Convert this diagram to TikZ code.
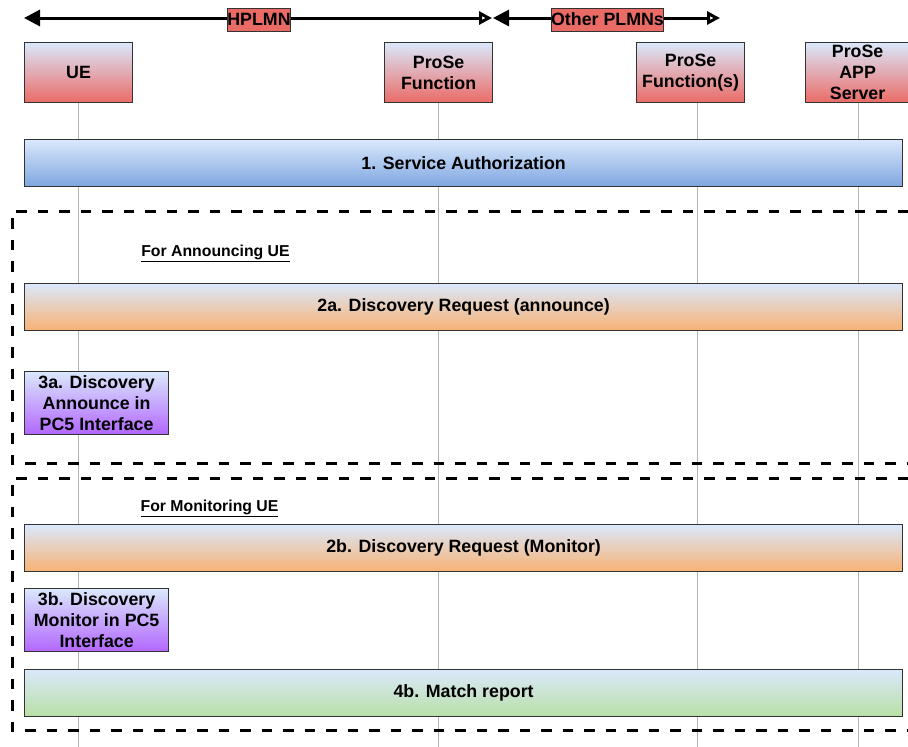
\documentclass[tikz,border=0pt]{standalone}
\usepackage{fontspec}
\setmainfont{Liberation Sans}
\usetikzlibrary{arrows.meta}
\definecolor{topc}{HTML}{DAE8FC}
\definecolor{redc}{HTML}{EA6B66}
\definecolor{bluec}{HTML}{7EA6E0}
\definecolor{orangec}{HTML}{F8B274}
\definecolor{greenc}{HTML}{B9E0A5}
\definecolor{purplec}{HTML}{B266FF}
\definecolor{edgec}{HTML}{333333}
\definecolor{lifec}{HTML}{B3B3B3}
\tikzset{
  txt/.style={font=\fontsize{17.8}{21}\selectfont\bfseries, text=black, align=center, inner sep=0pt},
  gbox/.style={txt, draw=edgec, line width=1.2pt, anchor=north west, shading=axis, top color=topc},
  actor/.style={gbox, bottom color=redc, minimum width=108pt, minimum height=60pt},
  wide/.style={gbox, minimum width=878pt, minimum height=47pt},
  small/.style={gbox, bottom color=purplec, minimum width=144pt, minimum height=63pt},
  tag/.style={txt, draw=edgec, line width=1pt, fill=redc, inner xsep=0pt, minimum height=23pt},
  sec/.style={font=\fontsize{15.8}{18}\selectfont\bfseries, inner sep=0pt},
  life/.style={draw=lifec, line width=0.9pt},
  span/.style={line width=3pt, {Triangle[length=16pt,width=16pt]}-{Triangle[open,length=13pt,width=13pt,fill=white]}},
  dashbox/.style={line width=3pt, dash pattern=on 10.5pt off 11pt}
}
\begin{document}
\begin{tikzpicture}[x=1pt,y=-1pt]
\useasboundingbox[fill=white] (0,0) rectangle (908,747);
\coordinate (bot) at (0,747);
% actors
\node[actor] (ue) at (24,42) {UE};
\node[actor] (pf) at (384,42) {ProSe\\Function};
\node[actor] (pfs) at (636,42) {ProSe\\Function(s)};
\node[actor, minimum width=104pt] (app) at (805,42) {ProSe\\APP\\Server};
% lifelines
\draw[life] (ue.south) -- (ue.south |- bot);
\draw[life] (pf.south) -- (pf.south |- bot);
\draw[life] ([xshift=7pt]pfs.south) -- ([xshift=7pt]pfs.south |- bot);
\draw[life] ([xshift=1pt]app.south) -- ([xshift=1pt]app.south |- bot);
% network spans
\coordinate (h1) at (24,18);
\coordinate (h2) at (492,18);
\coordinate (o1) at (493,18);
\coordinate (o2) at (720,18);
\draw[span] (h1) -- (h2);
\draw[span] (o1) -- (o2);
\node[tag, minimum width=60pt] (hplmn) at (259,19.5) {HPLMN};
\node[tag, minimum width=109pt] (other) at (607.5,19.5) {Other PLMNs};
% messages
\node[wide, bottom color=bluec] (sa) at (24,139) {1. Service Authorization};
\draw[dashbox] (908,211) -- (12,211) -- (12,463) -- (908,463);
\node[sec] (lblA) at (215.5,253.5) {\underline{For Announcing UE}};
\node[wide, bottom color=orangec] (s2a) at (24,283) {2a. Discovery Request (announce)};
\node[small] (s3a) at (24,371) {3a. Discovery\\Announce in\\PC5 Interface};
\draw[dashbox] (908,478) -- (12,478) -- (12,730) -- (908,730);
\node[sec] (lblM) at (209.5,508.5) {\underline{For Monitoring UE}};
\node[wide, bottom color=orangec] (s2b) at (24,524) {2b. Discovery Request (Monitor)};
\node[small] (s3b) at (24,588) {3b. Discovery\\Monitor in PC5\\Interface};
\node[wide, bottom color=greenc] (s4b) at (24,669) {4b. Match report};
\end{tikzpicture}
\end{document}
